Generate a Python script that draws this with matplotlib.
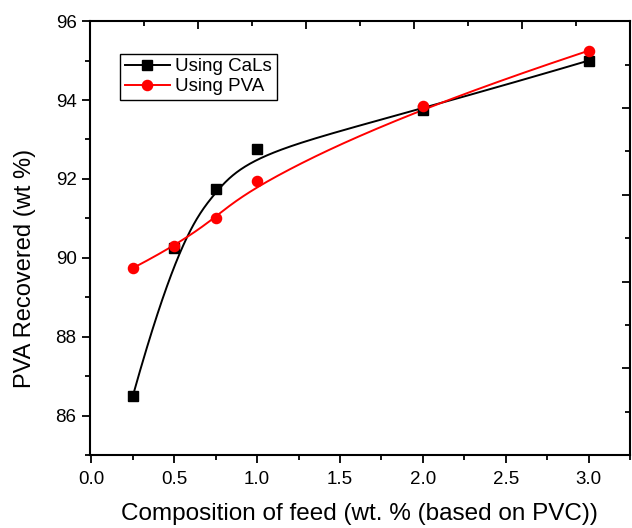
import numpy as np
import matplotlib.pyplot as plt

plt.rcParams['font.family'] = ['Liberation Sans', 'DejaVu Sans']

# data
feed = [0.25, 0.5, 0.75, 1.0, 2.0, 3.0]
cals = [86.5, 90.25, 91.75, 92.75, 93.76, 95.0]
pva = [89.74, 90.29, 91.0, 91.95, 93.86, 95.25]


# clamped cubic B-spline using the data points as control points (Origin style)
def bspline(xs, ys, k=3, n=300):
    pts = np.column_stack([xs, ys])
    m = len(pts)
    inner = np.linspace(0, 1, m - k + 1)
    knots = np.concatenate([[0] * k, inner, [1] * k])
    t = np.linspace(0, 1, n)
    t[-1] = 1 - 1e-9

    def basis(i, p, u):
        if p == 0:
            return ((knots[i] <= u) & (u < knots[i + 1])).astype(float)
        a = 0.0
        d1 = knots[i + p] - knots[i]
        d2 = knots[i + p + 1] - knots[i + 1]
        if d1 > 0:
            a = a + (u - knots[i]) / d1 * basis(i, p - 1, u)
        if d2 > 0:
            a = a + (knots[i + p + 1] - u) / d2 * basis(i + 1, p - 1, u)
        return a

    B = np.array([basis(i, k, t) for i in range(m)])
    curve = B.T @ pts
    return curve[:, 0], curve[:, 1]


fig = plt.figure(figsize=(6.32, 5.28), dpi=100)
ax = fig.add_axes([0.142, 0.138, 0.855, 0.822])

cx, cy = bspline(feed, cals)
px, py = bspline(feed, pva)
ax.plot(cx, cy, color='black', lw=1.4)
ax.plot(px, py, color='red', lw=1.4)
ax.plot(feed, cals, 's', color='black', ms=6.8)
ax.plot(feed, pva, 'o', color='red', ms=7.3)

# legend handles
ax.plot([], [], '-s', color='black', lw=1.4, ms=6.8, label='Using CaLs')
ax.plot([], [], '-o', color='red', lw=1.4, ms=7.3, label='Using PVA')
leg = ax.legend(loc='upper left', bbox_to_anchor=(0.056, 0.925), fontsize=13.5,
                fancybox=False, edgecolor='black', framealpha=1,
                handlelength=2.4, handletextpad=0.3, borderpad=0.25,
                labelspacing=0.15, borderaxespad=0)
leg.get_frame().set_linewidth(1.0)

ax.set_xlim(-0.01, 3.25)
ax.set_ylim(85, 96)
ax.set_xticks(np.arange(0, 3.01, 0.5))
ax.set_xticks(np.arange(0.25, 3.26, 0.5), minor=True)
ax.set_yticks(np.arange(86, 96.1, 2))
ax.set_yticks(np.arange(85, 96, 2), minor=True)
ax.tick_params(which='major', direction='out', length=6, width=1.3,
               labelsize=13.5, pad=3.5)
ax.tick_params(axis='x', which='major', pad=5.5)
ax.tick_params(which='minor', direction='out', length=3.5, width=1.3)
for s in ax.spines.values():
    s.set_linewidth(1.5)

ax.set_xlabel('Composition of feed (wt. % (based on PVC))', fontsize=17.5, labelpad=11)
ax.set_ylabel('PVA Recovered (wt %)', fontsize=17)
ax.yaxis.set_label_coords(-0.1, 0.43)

# top / right axes with their own default 0-10 scale, ticks inward
ax2 = fig.add_axes(ax.get_position(), frameon=False)
ax2.set_xlim(0, 10)
ax2.set_ylim(0, 10)
ax2.set_xticks([0, 2, 4, 6, 8, 10])
ax2.set_xticks([1, 3, 5, 7, 9], minor=True)
ax2.set_yticks([0, 2, 4, 6, 8, 10])
ax2.set_yticks([1, 3, 5, 7, 9], minor=True)
ax2.xaxis.tick_top()
ax2.yaxis.tick_right()
ax2.tick_params(which='major', direction='in', length=6, width=1.3,
                labeltop=False, labelright=False)
ax2.tick_params(which='minor', direction='in', length=3.5, width=1.3)

fig.savefig('out.png', dpi=100)
